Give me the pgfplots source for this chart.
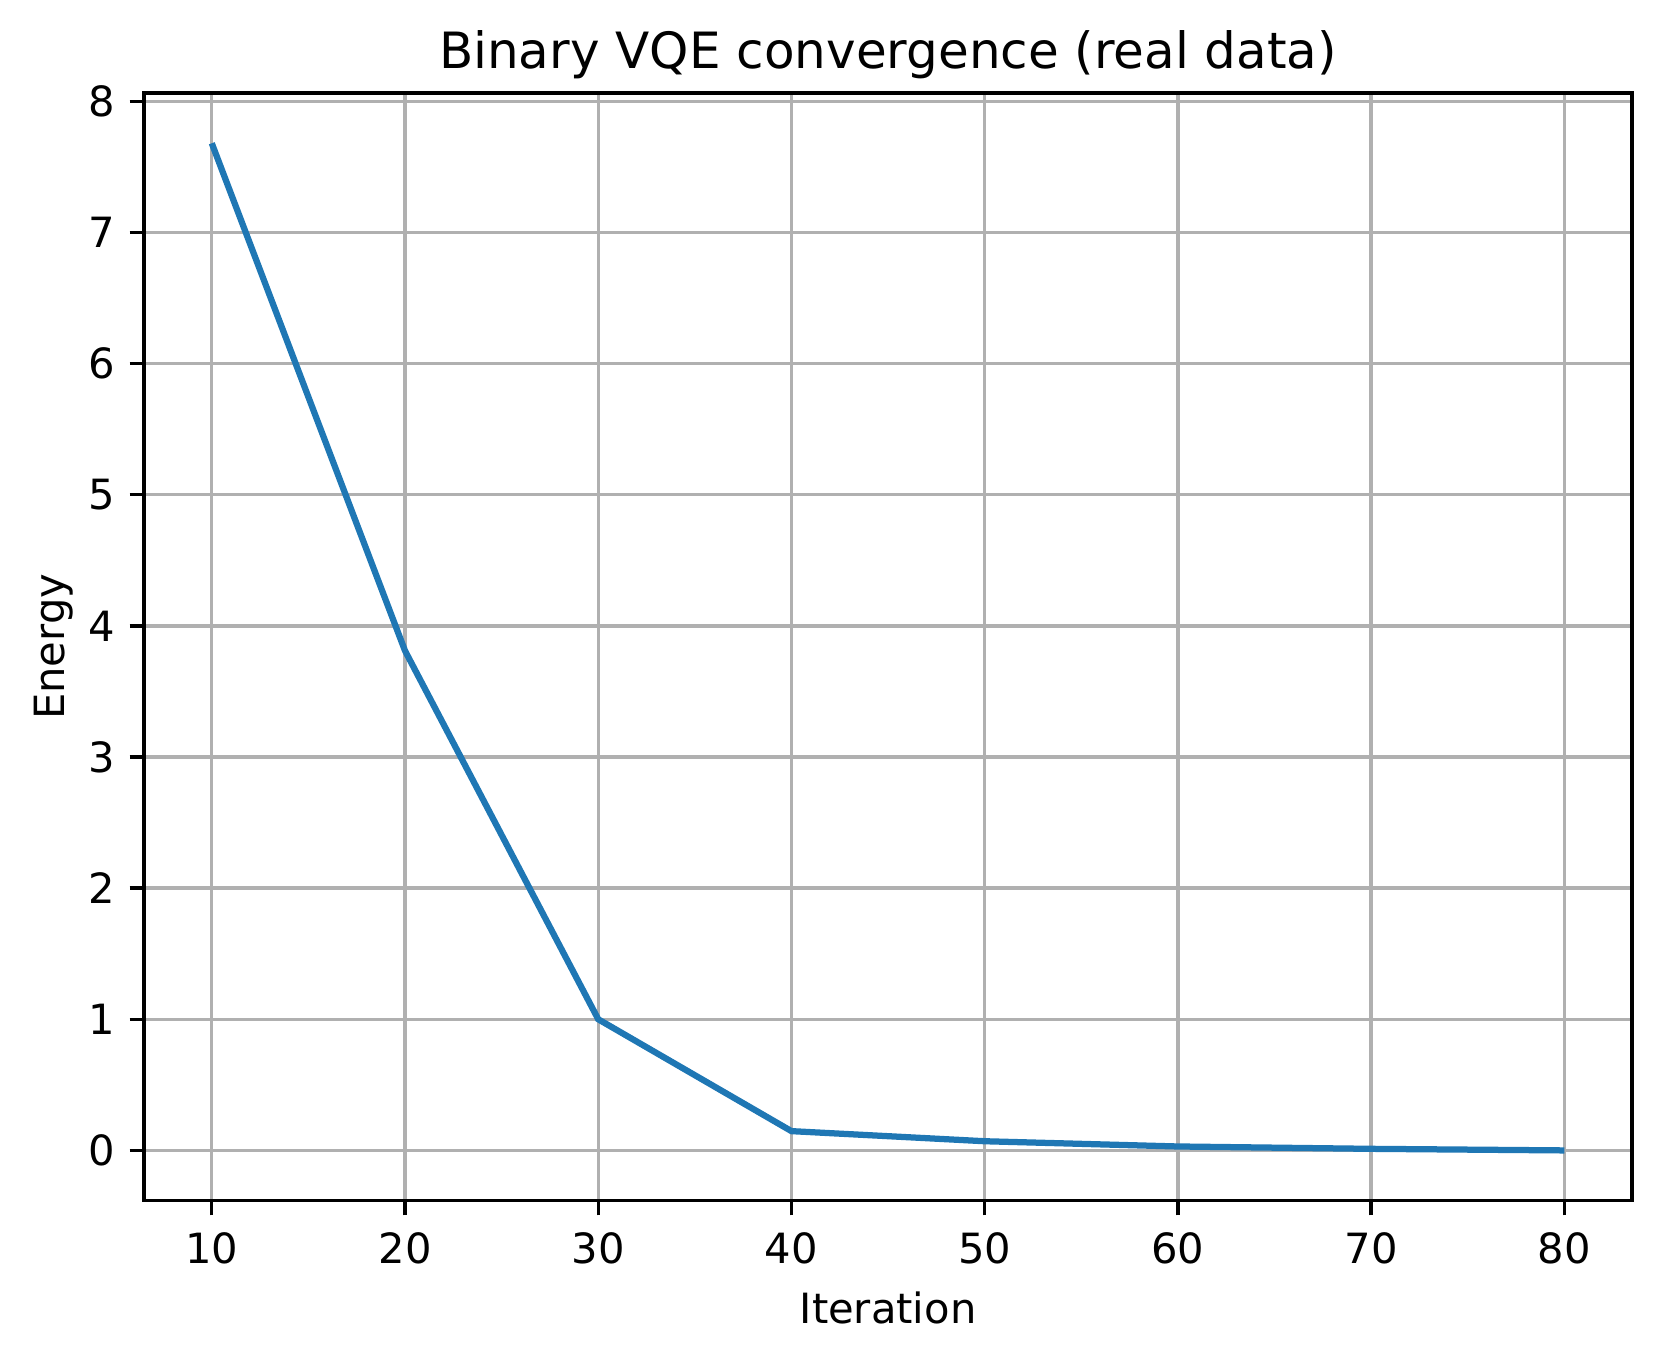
\documentclass[border=0pt]{standalone}
\usepackage{fontspec}
\setmainfont{DejaVu Sans}
\usepackage{pgfplots}
\pgfplotsset{compat=1.18}
\definecolor{mplblue}{HTML}{1F77B4}
\definecolor{gridgray}{HTML}{B0B0B0}
\begin{document}
\begin{tikzpicture}
\begin{axis}[
  at={(0,0)}, anchor=south west,
  scale only axis,
  width=357.1pt, height=265.9pt,
  xmin=6.5, xmax=83.5,
  ymin=-0.384, ymax=8.064,
  xtick={10,20,...,80},
  ytick={0,1,...,8},
  tick pos=left,
  tick align=outside,
  major tick length=3.5pt,
  every tick/.style={black, line width=0.8pt},
  axis line style={line width=0.8pt},
  grid=major,
  major grid style={gridgray, line width=0.8pt},
  tick label style={font=\fontsize{10}{12}\selectfont},
  /pgf/number format/assume math mode=true,
  xticklabel style={yshift=-0.5pt},
  label style={font=\fontsize{10}{12}\selectfont},
  xlabel={Iteration},
  ylabel={Energy},
  xlabel style={yshift=0.2pt},
  ylabel style={yshift=-3.2pt},
  title={Binary VQE convergence (real data)},
  title style={font=\fontsize{12}{14}\selectfont, yshift=-6.1pt},
]
\addplot[mplblue, line width=1.5pt] coordinates {
  (10,7.68) (20,3.81) (30,1.00) (40,0.147) (50,0.070) (60,0.030) (70,0.012) (80,0.0)
};
\end{axis}
\pgfresetboundingbox
\path (-34.6pt,-38.4pt) rectangle (364.3pt,288.2pt);
\end{tikzpicture}
\end{document}
